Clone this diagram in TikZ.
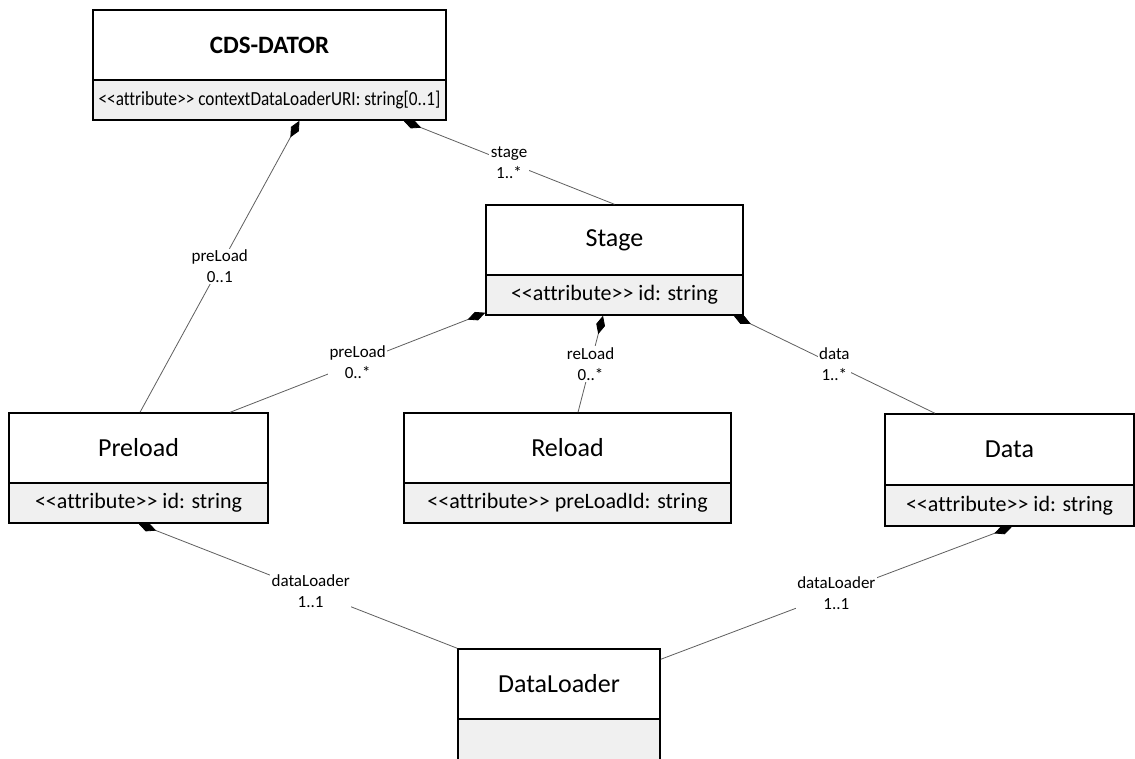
\documentclass[tikz,border=0pt]{standalone}
\usepackage{fontspec}
\setmainfont{Carlito}[Ligatures={TeXOff,NoCommon}]
\usetikzlibrary{arrows.meta}
\definecolor{attrgray}{RGB}{240,240,240}
\definecolor{linegray}{RGB}{95,95,95}
\begin{document}
\begin{tikzpicture}[x=1pt,y=-1pt,
  titlepart/.style={draw=black, line width=1.4pt, fill=white, minimum height=70pt,
    inner sep=0pt, font=\fontsize{26}{31}\selectfont},
  attrpart/.style={draw=black, line width=1.4pt, fill=attrgray, minimum height=40pt,
    inner sep=0pt, font=\fontsize{22}{26}\selectfont},
  assoc/.style={draw=linegray, line width=0.8pt,
    -{Diamond[length=19pt,width=9pt,color=black]}},
  rolelabel/.style={fill=white, inner sep=1.5pt, align=center,
    font=\fontsize{17}{21}\selectfont}
]
\useasboundingbox (0,0) rectangle (1135,758);
\fill[white] (0,0) rectangle (1135,758);
\begin{scope}
\clip (0,0) rectangle (1135,758);

% classes: name compartment above, attribute compartment below
\node[titlepart, minimum width=353pt, font=\fontsize{25}{30}\selectfont\bfseries] (cdsT) at (269.5,45) {CDS-DATOR};
\node[attrpart, minimum width=353pt, font=\fontsize{20}{24}\selectfont] (cdsA) at (269.5,100)
  {\scalebox{0.86}[1]{<<attribute>> contextDataLoaderURI: string[0..1]}};

\node[titlepart, minimum width=257pt] (stT) at (614.5,240) {Stage};
\node[attrpart, minimum width=257pt] (stA) at (614.5,295) {<<attribute>> id: string};

\node[titlepart, minimum width=259pt] (prT) at (138.5,448) {Preload};
\node[attrpart, minimum width=259pt] (prA) at (138.5,503) {<<attribute>> id: string};

\node[titlepart, minimum width=327pt] (rlT) at (567.5,448) {Reload};
\node[attrpart, minimum width=327pt] (rlA) at (567.5,503) {<<attribute>> preLoadId: string};

\node[titlepart, minimum width=249pt, minimum height=71pt] (daT) at (1009.5,449.5) {Data};
\node[attrpart, minimum width=249pt, minimum height=41pt] (daA) at (1009.5,505.5) {<<attribute>> id: string};

\node[titlepart, minimum width=202pt] (dlT) at (559,684) {DataLoader};
\node[attrpart, minimum width=202pt, minimum height=50pt] (dlA) at (559,744) {};

% compositions, diamond at the owning class
\draw[assoc] ([xshift=1.5pt]prT.north) -- node[rolelabel, pos=0.5] (l1) {preLoad\\0..1} ([xshift=30pt]cdsA.south);
\draw[assoc] (stT.north) -- node[rolelabel, pos=0.5] (l2) {stage\\1..*} ([xshift=134pt]cdsA.south);
\draw[assoc] ([xshift=91.5pt]prT.north) -- node[rolelabel, pos=0.5] (l3) {preLoad\\0..*} ([yshift=3pt]stA.south west);
\draw[assoc] ([xshift=10.5pt]rlT.north) -- node[rolelabel, pos=0.5] (l4) {reLoad\\0..*} ([xshift=-11.5pt]stA.south);
\draw[assoc] ([xshift=-74.5pt]daT.north) -- node[rolelabel, pos=0.5] (l5) {data\\1..*} ([xshift=-10pt]stA.south east);
\draw[assoc] (dlT.north west) -- node[rolelabel, pos=0.46] (l6) {dataLoader\\1..1} (prA.south);
\draw[assoc] ([yshift=-11pt]dlT.north east) -- node[rolelabel, pos=0.5] (l7) {dataLoader\\1..1} ([xshift=2.5pt]daA.south);
\end{scope}
\end{tikzpicture}
\end{document}
